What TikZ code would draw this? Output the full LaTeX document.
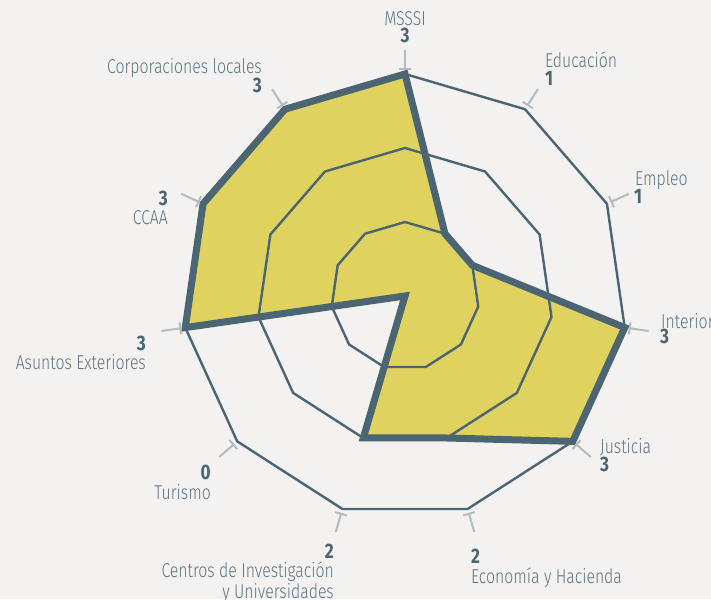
\documentclass[tikz,border=0pt]{standalone}
\usepackage{fontspec}
\setmainfont{Fira Sans Light}[FakeStretch=0.79]
\newfontfamily\numfont{Fira Sans Bold}[FakeStretch=0.82]
\usepackage{tikz}
\usetikzlibrary{arrows.meta, positioning}

\definecolor{bgcol}{HTML}{F4F2F1}
\definecolor{slate}{HTML}{4B6672}
\definecolor{mustard}{HTML}{DFD25E}
\definecolor{tickgray}{HTML}{B3BBBF}
\definecolor{labcol}{HTML}{5C7582}

\begin{document}
\begin{tikzpicture}[
    x=1pt, y=1pt,
    ring/.style={draw=slate, line width=2.4pt, line join=miter},
    datafill/.style={fill=mustard},
    dataline/.style={draw=slate, line width=7pt, line join=miter},
    ticker/.style={draw=tickgray, line width=2pt, {Bar[width=12pt, line width=2pt]}-},
    lab/.style={text=labcol, font=\fontsize{20}{17}\selectfont, inner sep=0pt},
    val/.style={text=slate, font=\numfont\fontsize{21}{21}\selectfont, inner sep=0pt}
]

% 背景
\fill[bgcol] (-405,-303) rectangle (306,296);
\useasboundingbox (-405,-303) rectangle (306,296);

% 軸
\foreach \v [count=\k from 0] in {3,1,1,3,3,2,2,0,3,3,3} {
    \coordinate (p\k) at ({90-\k*360/11}:{\v*74});
    \coordinate (t\k) at ({90-\k*360/11}:226);
    \coordinate (u\k) at ({90-\k*360/11}:246);
}

% データ
\fill[datafill] (p0) -- (p1) -- (p2) -- (p3) -- (p4) -- (p5) -- (p6) -- (p7) -- (p8) -- (p9) -- (p10) -- cycle;

% グリッド
\foreach \r in {74,148,222}
    \draw[ring] (90:\r) \foreach \k in {1,...,10} { -- ({90-\k*360/11}:\r) } -- cycle;

\draw[dataline] (p0) -- (p1) -- (p2) -- (p3) -- (p4) -- (p5) -- (p6) -- (p7) -- (p8) -- (p9) -- (p10) -- cycle;

% 目盛り
\foreach \k in {0,...,10}
    \draw[ticker] (t\k) -- (u\k);

% ラベル
\node (lblMSSSI) [lab, anchor=base] at (0,270) {MSSSI};
\node (valMSSSI) [val, anchor=base] at (0,253) {3};
\node (lblEdu) [lab, anchor=base west] at (140,228) {Educación};
\node (valEdu) [val, anchor=base west] at (140,210) {1};
\node (lblEmp) [lab, anchor=base west] at (230,110) {Empleo};
\node (valEmp) [val, anchor=base west] at (229,92) {1};
\node (lblInt) [lab, anchor=base west] at (256,-33) {Interior};
\node (valInt) [val, anchor=base west] at (255,-47) {3};
\node (lblJus) [lab, anchor=base west] at (195,-157) {Justicia};
\node (valJus) [val, anchor=base west] at (195,-175) {3};
\node (lblEco) [lab, anchor=base west] at (66,-287) {Economía y Hacienda};
\node (valEco) [val, anchor=base west] at (66,-267) {2};
\node (lblCen) [lab, anchor=north east, align=right] at (-71,-266) {Centros de Investigación\\y Universidades};
\node (valCen) [val, anchor=base east] at (-71,-262) {2};
\node (lblTur) [lab, anchor=base east] at (-194,-203) {Turismo};
\node (valTur) [val, anchor=base east] at (-194,-183) {0};
\node (lblAE) [lab, anchor=base east] at (-259,-73) {Asuntos Exteriores};
\node (valAE) [val, anchor=base east] at (-259,-54) {3};
\node (lblCCAA) [lab, anchor=base east] at (-237,71) {CCAA};
\node (valCCAA) [val, anchor=base east] at (-237,90) {3};
\node (lblCL) [lab, anchor=base east] at (-143,222) {Corporaciones locales};
\node (valCL) [val, anchor=base east] at (-143,203) {3};

\end{tikzpicture}
\end{document}
